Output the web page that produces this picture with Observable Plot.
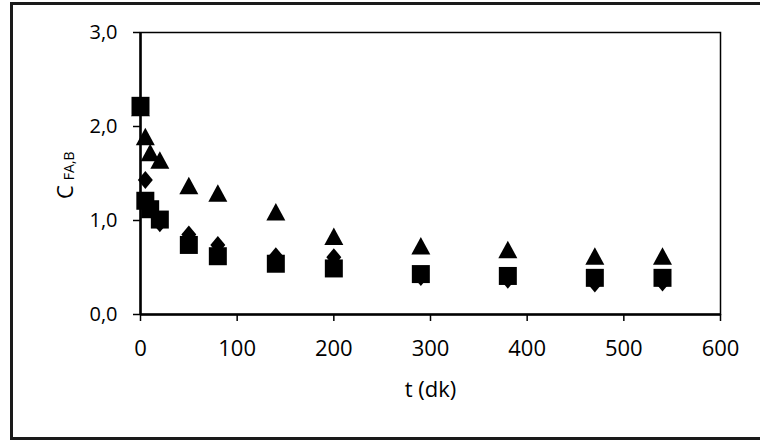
<!DOCTYPE html>
<html><head><meta charset="utf-8">
<script src="https://cdn.jsdelivr.net/npm/d3@7"></script>
<script src="https://cdn.jsdelivr.net/npm/@observablehq/plot@0.6"></script>
<style>
body{margin:0;background:#fff;}
#wrap{position:relative;width:760px;height:441px;overflow:hidden;}
#border{position:absolute;left:10px;top:2px;width:760px;height:432px;border:3px solid #1a1a1a;box-sizing:content-box;}
#chart{position:absolute;left:0;top:0;}
</style></head>
<body><div id="wrap"><div id="border"></div><div id="chart"></div></div>
<script>
const times = [0, 5, 10, 20, 50, 80, 140, 200, 290, 380, 470, 540];
const triangleSeries = [2.2, 1.89, 1.72, 1.64, 1.37, 1.29, 1.09, 0.83, 0.73, 0.69, 0.62, 0.62];
const diamondSeries  = [2.2, 1.43, 1.12, 0.97, 0.85, 0.74, 0.62, 0.61, 0.40, 0.37, 0.33, 0.34];
const squareSeries   = [2.22, 1.21, 1.12, 1.01, 0.74, 0.62, 0.54, 0.49, 0.43, 0.41, 0.39, 0.39];
const xTicks = [0, 100, 200, 300, 400, 500, 600];
const yTicks = [0, 1, 2, 3];

const tri = {draw(ctx){ctx.moveTo(0,-9); ctx.lineTo(9.5,8.5); ctx.lineTo(-9.5,8.5); ctx.closePath();}};
const dia = {draw(ctx){ctx.moveTo(0,-9); ctx.lineTo(7.5,0); ctx.lineTo(0,9); ctx.lineTo(-7.5,0); ctx.closePath();}};
const sq = {draw(ctx){ctx.rect(-9,-9,18,18);}};

const mk = (vals) => times.map((t,i)=>({t, v: vals[i]}));
const fmt = d => d.toFixed(1).replace(".", ",");

const plot = Plot.plot({
  width: 760, height: 441,
  marginLeft: 140, marginRight: 40, marginTop: 32, marginBottom: 127,
  style: {fontFamily: "'Open Sans', sans-serif", fontSize: "20px", color: "#000", background: "transparent"},
  x: {domain: [0, 600], label: null},
  y: {domain: [0, 3], label: null},
  marks: [
    Plot.frame({stroke: "#000", strokeWidth: 1.5}),
    Plot.ruleX([0], {stroke: "#000", strokeWidth: 2.5}),
    Plot.ruleY([0], {stroke: "#000", strokeWidth: 2.5}),
    Plot.axisX({ticks: xTicks, tickSize: 7, tickPadding: 19, label: null, strokeWidth: 1.5, fontSize: 22}),
    Plot.axisY({ticks: yTicks, tickSize: 7, tickPadding: 16, tickFormat: fmt, label: null, strokeWidth: 1.5, fontSize: 20}),
    Plot.dot(mk(diamondSeries), {x: "t", y: "v", symbol: dia, r: 7, fill: "#000", stroke: "none"}),
    Plot.dot(mk(triangleSeries), {x: "t", y: "v", symbol: tri, r: 7, fill: "#000", stroke: "none"}),
    Plot.dot(mk(squareSeries), {x: "t", y: "v", symbol: sq, r: 7, fill: "#000", stroke: "none"}),
    Plot.text(["t (dk)"], {frameAnchor: "bottom", dy: 82, fontSize: 22, fill: "#000"})
  ]
});
const svg = d3.select(plot);
const yl = svg.append("text")
  .attr("transform", "translate(73,199) rotate(-90)")
  .attr("text-anchor", "start")
  .attr("font-family", "'Open Sans', sans-serif")
  .attr("fill", "#000");
yl.append("tspan").attr("font-size", 22).text("C");
yl.append("tspan").attr("font-size", 14).attr("dx", 5).attr("dy", 1).text("FA,B");
document.getElementById("chart").appendChild(plot);
</script>
</body></html>
